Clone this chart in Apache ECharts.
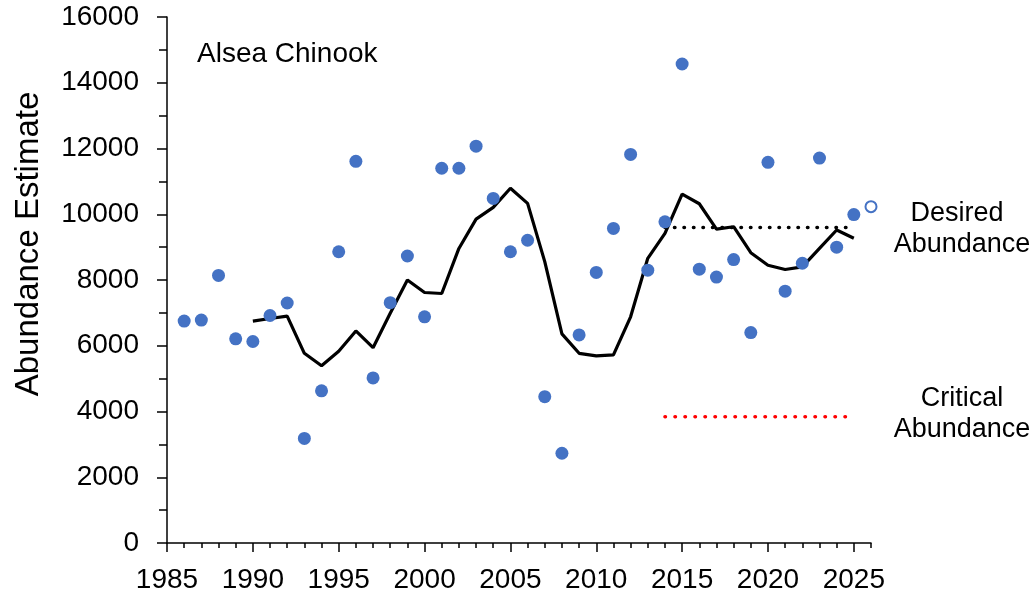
<!DOCTYPE html>
<html>
<head>
<meta charset="utf-8">
<title>Alsea Chinook</title>
<script src="https://cdn.jsdelivr.net/npm/echarts@6/dist/echarts.min.js"></script>
<style>
  html, body { margin: 0; padding: 0; background: #fff; }
  #main { width: 1032px; height: 597px; }
</style>
</head>
<body>
<div id="main"></div>
<script>
// yearly abundance estimates (dots)
var years = [1986, 1987, 1988, 1989, 1990, 1991, 1992, 1993, 1994, 1995,
             1996, 1997, 1998, 1999, 2000, 2001, 2002, 2003, 2004, 2005,
             2006, 2007, 2008, 2009, 2010, 2011, 2012, 2013, 2014, 2015,
             2016, 2017, 2018, 2019, 2020, 2021, 2022, 2023, 2024, 2025];
var abundance = [6750, 6780, 8140, 6210, 6130, 6920, 7300, 3180, 4630, 8860,
                 11610, 5020, 7310, 8730, 6880, 11400, 11400, 12070, 10480, 8860,
                 9210, 4450, 2730, 6330, 8230, 9570, 11820, 8300, 9770, 14570,
                 8330, 8090, 8620, 6400, 11580, 7660, 8510, 11710, 9000, 9990];

// running average (black line)
var avgYears = [1990, 1991, 1992, 1993, 1994, 1995, 1996, 1997, 1998, 1999,
                2000, 2001, 2002, 2003, 2004, 2005, 2006, 2007, 2008, 2009,
                2010, 2011, 2012, 2013, 2014, 2015, 2016, 2017, 2018, 2019,
                2020, 2021, 2022, 2023, 2024, 2025];
var avgValues = [6750, 6830, 6900, 5770, 5390, 5830, 6450, 5940, 6990, 8000,
                 7620, 7590, 8960, 9850, 10210, 10790, 10330, 8560, 6360, 5770,
                 5690, 5720, 6880, 8660, 9420, 10610, 10320, 9550, 9620, 8830,
                 8450, 8320, 8400, 8960, 9520, 9270];

// forecast (open circle)
var forecastYear = [2026];
var forecastValue = [10230];

// reference levels
var refYears = [2014, 2025];
var desired = 9600;
var critical = 3840;

// axis ticks
var xMin = 1985, xMax = 2026;
var xLabelTicks = [1985, 1990, 1995, 2000, 2005, 2010, 2015, 2020, 2025];
var xYearTicks = [1985, 1986, 1987, 1988, 1989, 1990, 1991, 1992, 1993, 1994,
                  1995, 1996, 1997, 1998, 1999, 2000, 2001, 2002, 2003, 2004,
                  2005, 2006, 2007, 2008, 2009, 2010, 2011, 2012, 2013, 2014,
                  2015, 2016, 2017, 2018, 2019, 2020, 2021, 2022, 2023, 2024,
                  2025, 2026];
var yMin = 0, yMax = 16000, yStep = 2000;

var myChart = echarts.init(document.getElementById('main'));

function pairs(xs, ys) {
    return xs.map(function (x, i) { return [x, ys[i]]; });
}

var font = 'Liberation Sans, Arial, sans-serif';
var black = { color: '#000', width: 1.5 };

var option = {
    animation: false,
    grid: { left: 167, right: 161, top: 17, bottom: 54 },
    xAxis: [
        {
            type: 'value',
            min: xMin,
            max: xMax,
            splitLine: { show: false },
            axisLine: { show: true, onZero: false, lineStyle: black },
            axisTick: { show: true, inside: false, length: 9, customValues: xLabelTicks, lineStyle: black },
            axisLabel: {
                margin: 23, fontSize: 28, color: '#000', fontFamily: font,
                customValues: xLabelTicks,
                formatter: function (v) { return String(v); }
            }
        },
        {
            type: 'value',
            position: 'bottom',
            min: xMin,
            max: xMax,
            splitLine: { show: false },
            axisLine: { show: false, onZero: false },
            axisTick: { show: true, inside: false, length: 5, customValues: xYearTicks, lineStyle: black },
            axisLabel: { show: false }
        }
    ],
    yAxis: {
        type: 'value',
        min: yMin,
        max: yMax,
        interval: yStep,
        splitLine: { show: false },
        axisLine: { show: true, lineStyle: black },
        axisTick: { show: true, inside: false, length: 10, lineStyle: black },
        minorTick: { show: true, splitNumber: 2, length: 8, lineStyle: black },
        axisLabel: {
            margin: 28, fontSize: 28, color: '#000', fontFamily: font,
            formatter: function (v) { return String(v); }
        }
    },
    graphic: [
        {
            type: 'text', left: 197, top: 40,
            style: { text: 'Alsea Chinook', font: '28px ' + font, fill: '#000' }
        },
        {
            type: 'text', x: 29, y: 244, rotation: Math.PI / 2,
            style: { text: 'Abundance Estimate', font: '33px ' + font, fill: '#000',
                     align: 'center', verticalAlign: 'middle' }
        },
        {
            type: 'text', x: 957, y: 214,
            style: { text: 'Desired', font: '27px ' + font, fill: '#000',
                     align: 'center', verticalAlign: 'middle' }
        },
        {
            type: 'text', x: 962, y: 245,
            style: { text: 'Abundance', font: '27px ' + font, fill: '#000',
                     align: 'center', verticalAlign: 'middle' }
        },
        {
            type: 'text', x: 962, y: 399,
            style: { text: 'Critical', font: '27px ' + font, fill: '#000',
                     align: 'center', verticalAlign: 'middle' }
        },
        {
            type: 'text', x: 962, y: 430,
            style: { text: 'Abundance', font: '27px ' + font, fill: '#000',
                     align: 'center', verticalAlign: 'middle' }
        }
    ],
    series: [
        {
            name: 'Desired',
            type: 'line',
            symbol: 'none',
            data: refYears.map(function (y) { return [y, desired]; }),
            lineStyle: { color: '#000', width: 3.5, type: [0.5, 9], cap: 'round' },
            z: 1
        },
        {
            name: 'Critical',
            type: 'line',
            symbol: 'none',
            data: refYears.map(function (y) { return [y, critical]; }),
            lineStyle: { color: '#ff0000', width: 3.5, type: [0.5, 9.5], cap: 'round' },
            z: 1
        },
        {
            name: 'Average',
            type: 'line',
            symbol: 'none',
            data: pairs(avgYears, avgValues),
            lineStyle: { color: '#000', width: 3.2 },
            z: 2
        },
        {
            name: 'Abundance',
            type: 'scatter',
            symbolSize: 13,
            data: pairs(years, abundance),
            itemStyle: { color: '#4472c4', opacity: 1 },
            z: 3
        },
        {
            name: 'Forecast',
            type: 'scatter',
            symbolSize: 11,
            clip: false,
            data: pairs(forecastYear, forecastValue),
            itemStyle: { color: '#fff', borderColor: '#4472c4', borderWidth: 2, opacity: 1 },
            z: 3
        }
    ]
};

myChart.setOption(option);
window.onresize = myChart.resize;
</script>
</body>
</html>
